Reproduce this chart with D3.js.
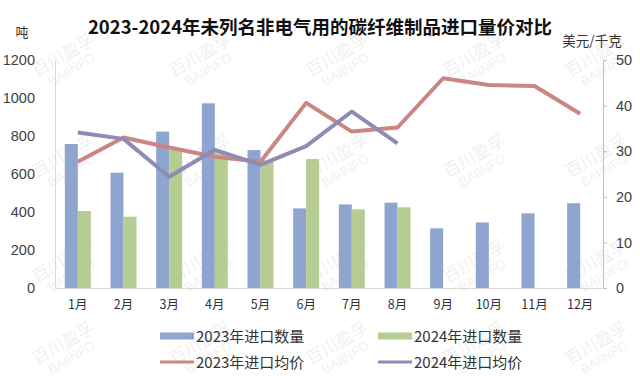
<!DOCTYPE html>
<html>
<head>
<meta charset="utf-8">
<script src="https://cdn.jsdelivr.net/npm/d3@7"></script>
<style>
  body { margin: 0; background: #fff; }
  svg { display: block; }
</style>
</head>
<body>
<svg width="640" height="376"></svg>
<script>
// data
var months = ["1月", "2月", "3月", "4月", "5月", "6月", "7月", "8月", "9月", "10月", "11月", "12月"]
var qty2023 = [758, 607, 823, 972, 726, 419, 440, 449, 314, 345, 393, 446]
var qty2024 = [405, 375, 726, 715, 672, 679, 414, 425]
var price2023 = [27.7, 33.0, 30.8, 28.8, 27.7, 40.6, 34.3, 35.2, 46.0, 44.5, 44.3, 38.2]
var price2024 = [34.1, 32.7, 24.4, 30.3, 27.0, 31.1, 38.7, 31.7]
var leftTicks = [0, 200, 400, 600, 800, 1000, 1200]
var rightTicks = [0, 10, 20, 30, 40, 50]

var colors = ["#8ea5cf", "#b5cd92", "#cb8582", "#8e8cb5"]
var font = "'Noto Sans CJK SC', sans-serif"
var numFont = "'Liberation Sans', Arial, sans-serif"

var svg = d3.select("svg")
// note: "top" is window.top, so use other names
var plotL = 55, plotR = 603, plotT = 60, plotB = 288

var x = d3.scaleBand().domain(months).range([plotL, plotR])
var y = d3.scaleLinear().domain([0, 1200]).range([plotB, plotT])
var y2 = d3.scaleLinear().domain([0, 50]).range([plotB, plotT])
var barW = 13

// watermark
var wm = svg.append("g")
;[62, 163, 268, 350].forEach(function (wy) {
  [67, 204, 341, 478, 600].forEach(function (wx) {
    var t = wm.append("g").attr("transform", "translate(" + wx + "," + wy + ") rotate(-30)")
    t.append("text").attr("text-anchor", "middle").attr("y", -2)
      .attr("font-family", font).attr("font-size", 17).attr("fill", "#000").attr("opacity", 0.06)
      .text("百川盈孚")
    t.append("text").attr("text-anchor", "middle").attr("y", 13)
      .attr("font-family", numFont).attr("font-size", 13).attr("fill", "#000").attr("opacity", 0.06)
      .text("BAIINFO")
  })
})

// title
svg.append("text")
  .attr("x", 320).attr("y", 34)
  .attr("text-anchor", "middle")
  .attr("font-family", font)
  .attr("font-size", "18.5px")
  .attr("font-weight", "bold")
  .attr("fill", "#111")
  .text("2023-2024年未列名非电气用的碳纤维制品进口量价对比")

svg.append("text").attr("x", 22).attr("y", 37).attr("text-anchor", "middle")
  .attr("font-family", font).attr("font-size", "13px").attr("fill", "#333").text("吨")
svg.append("text").attr("x", 592).attr("y", 46).attr("text-anchor", "middle")
  .attr("font-family", font).attr("font-size", "13.5px").attr("fill", "#333").text("美元/千克")

// axes
var gl = svg.append("g").attr("transform", "translate(" + plotL + ",0)")
  .call(d3.axisLeft(y).tickValues(leftTicks).tickFormat(d3.format("d")).tickSize(0).tickPadding(20))
gl.select(".domain").attr("stroke", "#d9d9d9")
gl.selectAll("text").attr("font-family", numFont)
  .attr("font-size", "14.5px").attr("fill", "#404040")

var gr = svg.append("g").attr("transform", "translate(" + plotR + ",0)")
  .call(d3.axisRight(y2).tickValues(rightTicks).tickSize(4).tickPadding(9))
gr.select(".domain").attr("stroke", "#bfbfbf")
gr.selectAll("line").attr("stroke", "#bfbfbf")
gr.selectAll("text").attr("font-family", numFont)
  .attr("font-size", "14.5px").attr("fill", "#404040")

var gb = svg.append("g").attr("transform", "translate(0," + plotB + ")")
  .call(d3.axisBottom(x).tickSize(0).tickPadding(12))
gb.select(".domain").attr("stroke", "#d9d9d9")
gb.selectAll("text").attr("font-family", font).attr("font-size", "12.5px").attr("fill", "#333")

// bars
svg.append("g").selectAll("rect").data(qty2023).enter().append("rect")
  .attr("x", function (d, i) { return x(months[i]) + x.bandwidth() / 2 - barW })
  .attr("y", function (d) { return y(d) })
  .attr("width", barW)
  .attr("height", function (d) { return plotB - y(d) })
  .attr("fill", colors[0])

svg.append("g").selectAll("rect").data(qty2024).enter().append("rect")
  .attr("x", function (d, i) { return x(months[i]) + x.bandwidth() / 2 })
  .attr("y", function (d) { return y(d) })
  .attr("width", barW)
  .attr("height", function (d) { return plotB - y(d) })
  .attr("fill", colors[1])

// lines
var line = d3.line()
  .x(function (d, i) { return x(months[i]) + x.bandwidth() / 2 })
  .y(function (d) { return y2(d) })

svg.append("path").datum(price2023).attr("d", line)
  .attr("fill", "none").attr("stroke", colors[2]).attr("stroke-width", 4).attr("stroke-linejoin", "round")
svg.append("path").datum(price2024).attr("d", line)
  .attr("fill", "none").attr("stroke", colors[3]).attr("stroke-width", 4).attr("stroke-linejoin", "round")

// legend
var legend = [
  { name: "2023年进口数量", type: "bar", c: colors[0], lx: 160, ly: 336 },
  { name: "2024年进口数量", type: "bar", c: colors[1], lx: 378, ly: 336 },
  { name: "2023年进口均价", type: "line", c: colors[2], lx: 160, ly: 362 },
  { name: "2024年进口均价", type: "line", c: colors[3], lx: 378, ly: 362 }
]
var lg = svg.append("g").selectAll("g").data(legend).enter().append("g")
  .attr("transform", function (d) { return "translate(" + d.lx + "," + d.ly + ")" })
lg.append("rect")
  .attr("x", 0)
  .attr("y", function (d) { return d.type == "bar" ? -3.5 : -1.5 })
  .attr("width", 34)
  .attr("height", function (d) { return d.type == "bar" ? 7 : 3 })
  .attr("fill", function (d) { return d.c })
lg.append("text")
  .attr("x", 36).attr("y", 5.5)
  .attr("font-family", font).attr("font-size", "15px").attr("fill", "#333")
  .text(function (d) { return d.name })
</script>
</body>
</html>
